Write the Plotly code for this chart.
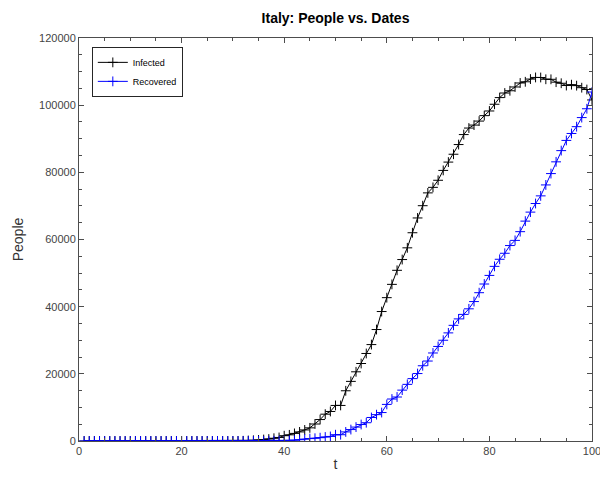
import plotly.graph_objects as go

t = list(range(1, 101))

infected = [0]*9 + [2]*7 + [3]*14 + [
    19, 59, 150, 221, 311, 438, 593, 821, 1053, 1577,
    1835, 2263, 2706, 3296, 3916, 5061, 6387, 7985, 8794, 10590,
    10590, 14955, 17750, 20603, 23073, 26062, 28710, 33190, 38549, 42681,
    46638, 50826, 54030, 57521, 62013, 66414, 70065, 73880, 75528, 77635,
    80572, 83049, 85388, 88274, 91246, 93187, 94067, 95262, 96877, 98273,
    100269, 102253, 103616, 104291, 105418, 106607, 106962, 107771, 108257, 108237,
    107709, 107699, 106848, 106527, 105847, 106103, 105813, 105205, 104657, 101551,
]

recovered = [0]*30 + [
    1, 3, 5, 8, 11, 15, 62, 67, 75, 117,
    201, 239, 383, 562, 720, 822, 988, 1187, 1355, 1872,
    1872, 2705, 3407, 4144, 4907, 5444, 7003, 7845, 8472, 10897,
    12500, 13101, 15146, 16865, 18576, 20084, 22407, 23809, 26211, 28157,
    30002, 32193, 34439, 36358, 37702, 39360, 41519, 44160, 46749, 49304,
    52002, 54110, 55900, 58197, 59737, 62334, 65472, 68154, 70715, 72991,
    76248, 79628, 83125, 86467, 89504, 91572, 93601, 96300, 98934, 103912,
]

series_names = ["Infected", "Recovered"]
series_colors = ["#000000", "#0000ff"]

fig = go.Figure()
for name, ys, col in zip(series_names, [infected, recovered], series_colors):
    fig.add_trace(go.Scatter(
        x=t, y=ys, name=name, mode="lines+markers",
        line=dict(color=col, width=1),
        marker=dict(symbol="cross-thin", size=7, color=col,
                    line=dict(color=col, width=1)),
    ))

axis_color = "#4d4d4d"
font_family = "Liberation Sans, Arial, Helvetica, sans-serif"

fig.update_layout(
    template="none",
    width=600, height=480,
    margin=dict(l=79, r=8, t=38, b=39),
    paper_bgcolor="white", plot_bgcolor="white",
    font=dict(family=font_family, size=11, color="#404040"),
    title=dict(text="<b>Italy: People vs. Dates</b>", x=(79 + 592) / 2 / 600, xanchor="center",
               y=1 - 18 / 480, yanchor="middle",
               font=dict(size=14, color="#000000", family=font_family)),
    showlegend=True,
    legend=dict(x=0.025, y=0.978, xanchor="left", yanchor="top",
                bgcolor="white", bordercolor="#262626", borderwidth=1,
                font=dict(size=9, color="#000000"),
                itemwidth=30, tracegroupgap=0),
)

fig.update_xaxes(
    range=[0, 100], dtick=20, tick0=0,
    showgrid=False, zeroline=False,
    showline=True, linecolor=axis_color, linewidth=1, mirror="ticks",
    ticks="inside", ticklen=5, tickcolor=axis_color,
    ticklabeloverflow="allow",
    minor=dict(ticks="inside", dtick=5, ticklen=3, tickcolor=axis_color, showgrid=False),
    title=dict(text="t", font=dict(size=14, color="#333333"), standoff=2),
    tickfont=dict(size=11, color="#444444"),
)
fig.update_yaxes(
    range=[0, 120000], dtick=20000, tick0=0, tickformat="d",
    showgrid=False, zeroline=False,
    showline=True, linecolor=axis_color, linewidth=1, mirror="ticks",
    ticks="inside", ticklen=5, tickcolor=axis_color,
    ticklabeloverflow="allow",
    minor=dict(ticks="inside", dtick=5000, ticklen=3, tickcolor=axis_color, showgrid=False),
    title=dict(text="People", font=dict(size=14, color="#333333"), standoff=12),
    tickfont=dict(size=11, color="#444444"),
)

fig.write_html("out.html")
